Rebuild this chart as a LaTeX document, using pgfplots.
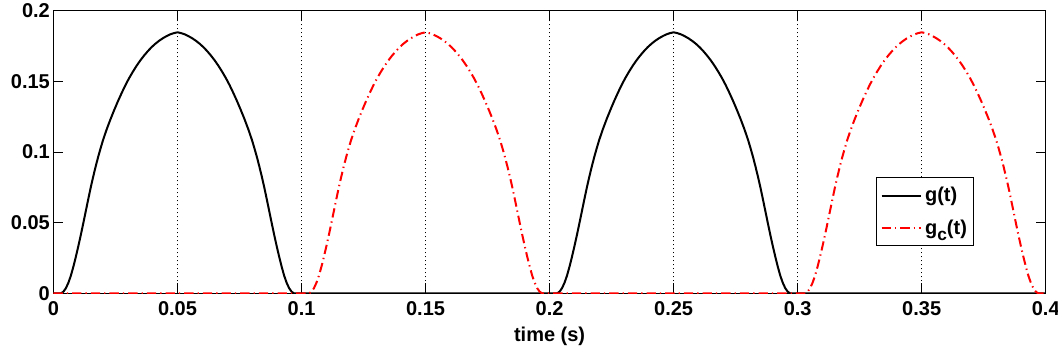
\documentclass[border=0pt]{standalone}
\usepackage{fontspec}
\setmainfont{Liberation Sans}
\usepackage{pgfplots}
\pgfplotsset{compat=1.18}
\begin{document}
\begin{tikzpicture}
\begin{axis}[
  scale only axis, width=744pt, height=212pt,
  xmin=0, xmax=0.4, ymin=0, ymax=0.2,
  xtick={0,0.05,0.1,0.15,0.2,0.25,0.3,0.35,0.4},
  xticklabels={0,0.05,0.1,0.15,0.2,0.25,0.3,0.35,0.4},
  ytick={0,0.05,0.1,0.15,0.2},
  yticklabels={0,0.05,0.1,0.15,0.2},
  scaled ticks=false,
  tick align=inside, major tick length=7.5pt,
  xmajorgrids,
  grid style={black, line width=0.6pt, dash pattern=on 0.75pt off 2.25pt},
  axis line style={black, line width=0.75pt},
  tick style={black, line width=0.75pt},
  tick label style={font=\bfseries\fontsize{15}{17}\selectfont},
  yticklabel style={xshift=0.8pt},
  xticklabel style={yshift=-2.5pt},
  xlabel={time (s)},
  xlabel style={font=\bfseries\fontsize{15}{17}\selectfont, yshift=-1.5pt},
  legend style={at={(0.829,0.41)}, anchor=north west, draw=black, line width=0.75pt,
    font=\bfseries\fontsize{15}{17}\selectfont, inner xsep=3pt, inner ysep=5pt,
    row sep=8pt, nodes={inner sep=2pt}},
  legend cell align=left,
  legend image code/.code={\draw[#1] (0cm,0cm) -- (1.05cm,0cm);},
]
\addplot[black, line width=1.5pt] coordinates {
(0,0)(0.003,0)(0.004,0.0012)(0.005,0.0037)(0.006,0.0075)(0.007,0.0125)(0.008,0.0188)(0.009,0.0258)(0.010,0.0333)(0.011,0.0412)(0.012,0.0495)(0.013,0.058)(0.014,0.0665)(0.015,0.0748)(0.016,0.0825)(0.017,0.0897)(0.018,0.0965)(0.019,0.1027)(0.020,0.1086)(0.0215,0.1163)(0.023,0.1233)(0.0245,0.1298)(0.026,0.1360)(0.0275,0.1418)(0.029,0.1473)(0.0305,0.1523)(0.032,0.1568)(0.0335,0.1610)(0.035,0.1648)(0.0365,0.1682)(0.038,0.1713)(0.0395,0.1741)(0.041,0.1765)(0.0425,0.1786)(0.044,0.1804)(0.0455,0.1819)(0.047,0.1832)(0.0485,0.1841)(0.050,0.1847)(0.0515,0.1841)(0.053,0.1832)(0.0545,0.1819)(0.056,0.1804)(0.0575,0.1786)(0.059,0.1765)(0.0605,0.1741)(0.062,0.1713)(0.0635,0.1682)(0.065,0.1648)(0.0665,0.1610)(0.068,0.1568)(0.0695,0.1523)(0.071,0.1473)(0.0725,0.1418)(0.074,0.1360)(0.0755,0.1298)(0.077,0.1233)(0.0785,0.1163)(0.080,0.1086)(0.081,0.1027)(0.082,0.0965)(0.083,0.0897)(0.084,0.0825)(0.085,0.0748)(0.086,0.0665)(0.087,0.058)(0.088,0.0495)(0.089,0.0412)(0.090,0.0333)(0.091,0.0258)(0.092,0.0188)(0.093,0.0125)(0.094,0.0075)(0.095,0.0037)(0.096,0.0012)(0.097,0)
(0.203,0)(0.204,0.0012)(0.205,0.0037)(0.206,0.0075)(0.207,0.0125)(0.208,0.0188)(0.209,0.0258)(0.210,0.0333)(0.211,0.0412)(0.212,0.0495)(0.213,0.058)(0.214,0.0665)(0.215,0.0748)(0.216,0.0825)(0.217,0.0897)(0.218,0.0965)(0.219,0.1027)(0.220,0.1086)(0.2215,0.1163)(0.223,0.1233)(0.2245,0.1298)(0.226,0.1360)(0.2275,0.1418)(0.229,0.1473)(0.2305,0.1523)(0.232,0.1568)(0.2335,0.1610)(0.235,0.1648)(0.2365,0.1682)(0.238,0.1713)(0.2395,0.1741)(0.241,0.1765)(0.2425,0.1786)(0.244,0.1804)(0.2455,0.1819)(0.247,0.1832)(0.2485,0.1841)(0.250,0.1847)(0.2515,0.1841)(0.253,0.1832)(0.2545,0.1819)(0.256,0.1804)(0.2575,0.1786)(0.259,0.1765)(0.2605,0.1741)(0.262,0.1713)(0.2635,0.1682)(0.265,0.1648)(0.2665,0.1610)(0.268,0.1568)(0.2695,0.1523)(0.271,0.1473)(0.2725,0.1418)(0.274,0.1360)(0.2755,0.1298)(0.277,0.1233)(0.2785,0.1163)(0.280,0.1086)(0.281,0.1027)(0.282,0.0965)(0.283,0.0897)(0.284,0.0825)(0.285,0.0748)(0.286,0.0665)(0.287,0.058)(0.288,0.0495)(0.289,0.0412)(0.290,0.0333)(0.291,0.0258)(0.292,0.0188)(0.293,0.0125)(0.294,0.0075)(0.295,0.0037)(0.296,0.0012)(0.297,0)(0.4,0)
};
\addlegendentry{g(t)}
\addplot[red, line width=1.5pt, dash pattern=on 7pt off 3pt on 1pt off 3pt] coordinates {
(0,0)(0.103,0)(0.104,0.0012)(0.105,0.0037)(0.106,0.0075)(0.107,0.0125)(0.108,0.0188)(0.109,0.0258)(0.110,0.0333)(0.111,0.0412)(0.112,0.0495)(0.113,0.058)(0.114,0.0665)(0.115,0.0748)(0.116,0.0825)(0.117,0.0897)(0.118,0.0965)(0.119,0.1027)(0.120,0.1086)(0.1215,0.1163)(0.123,0.1233)(0.1245,0.1298)(0.126,0.1360)(0.1275,0.1418)(0.129,0.1473)(0.1305,0.1523)(0.132,0.1568)(0.1335,0.1610)(0.135,0.1648)(0.1365,0.1682)(0.138,0.1713)(0.1395,0.1741)(0.141,0.1765)(0.1425,0.1786)(0.144,0.1804)(0.1455,0.1819)(0.147,0.1832)(0.1485,0.1841)(0.150,0.1847)(0.1515,0.1841)(0.153,0.1832)(0.1545,0.1819)(0.156,0.1804)(0.1575,0.1786)(0.159,0.1765)(0.1605,0.1741)(0.162,0.1713)(0.1635,0.1682)(0.165,0.1648)(0.1665,0.1610)(0.168,0.1568)(0.1695,0.1523)(0.171,0.1473)(0.1725,0.1418)(0.174,0.1360)(0.1755,0.1298)(0.177,0.1233)(0.1785,0.1163)(0.180,0.1086)(0.181,0.1027)(0.182,0.0965)(0.183,0.0897)(0.184,0.0825)(0.185,0.0748)(0.186,0.0665)(0.187,0.058)(0.188,0.0495)(0.189,0.0412)(0.190,0.0333)(0.191,0.0258)(0.192,0.0188)(0.193,0.0125)(0.194,0.0075)(0.195,0.0037)(0.196,0.0012)(0.197,0)
(0.303,0)(0.304,0.0012)(0.305,0.0037)(0.306,0.0075)(0.307,0.0125)(0.308,0.0188)(0.309,0.0258)(0.310,0.0333)(0.311,0.0412)(0.312,0.0495)(0.313,0.058)(0.314,0.0665)(0.315,0.0748)(0.316,0.0825)(0.317,0.0897)(0.318,0.0965)(0.319,0.1027)(0.320,0.1086)(0.3215,0.1163)(0.323,0.1233)(0.3245,0.1298)(0.326,0.1360)(0.3275,0.1418)(0.329,0.1473)(0.3305,0.1523)(0.332,0.1568)(0.3335,0.1610)(0.335,0.1648)(0.3365,0.1682)(0.338,0.1713)(0.3395,0.1741)(0.341,0.1765)(0.3425,0.1786)(0.344,0.1804)(0.3455,0.1819)(0.347,0.1832)(0.3485,0.1841)(0.350,0.1847)(0.3515,0.1841)(0.353,0.1832)(0.3545,0.1819)(0.356,0.1804)(0.3575,0.1786)(0.359,0.1765)(0.3605,0.1741)(0.362,0.1713)(0.3635,0.1682)(0.365,0.1648)(0.3665,0.1610)(0.368,0.1568)(0.3695,0.1523)(0.371,0.1473)(0.3725,0.1418)(0.374,0.1360)(0.3755,0.1298)(0.377,0.1233)(0.3785,0.1163)(0.380,0.1086)(0.381,0.1027)(0.382,0.0965)(0.383,0.0897)(0.384,0.0825)(0.385,0.0748)(0.386,0.0665)(0.387,0.058)(0.388,0.0495)(0.389,0.0412)(0.390,0.0333)(0.391,0.0258)(0.392,0.0188)(0.393,0.0125)(0.394,0.0075)(0.395,0.0037)(0.396,0.0012)(0.397,0)(0.4,0)
};
\addlegendentry{g\raisebox{-5pt}{\fontsize{13}{14}\selectfont c}(t)}
\end{axis}
\pgfresetboundingbox
\path[use as bounding box] ([xshift=-40.1pt,yshift=-44.8pt]current axis.south west) rectangle ([xshift=9.2pt,yshift=8pt]current axis.north east);
\end{tikzpicture}
\end{document}
